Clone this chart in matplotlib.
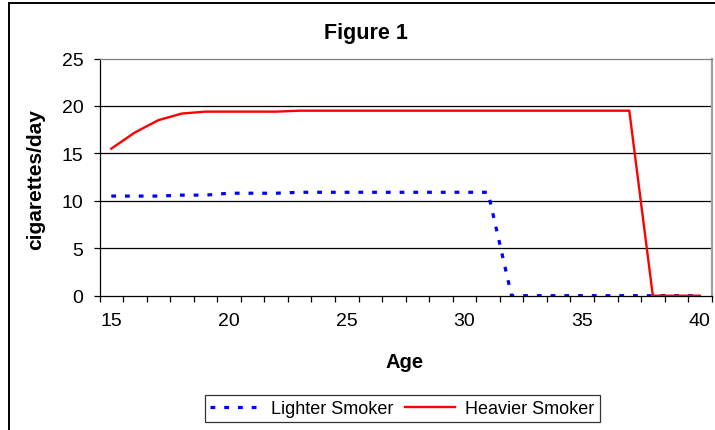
import matplotlib
matplotlib.use("Agg")
import matplotlib.pyplot as plt
from matplotlib.patches import Rectangle

ages = [15, 16, 17, 18, 19, 20, 21, 22, 23, 24, 25, 26, 27, 28, 29, 30,
        31, 32, 33, 34, 35, 36, 37, 38, 39, 40]
lighter = [10.5, 10.5, 10.5, 10.6, 10.6, 10.8, 10.8, 10.8, 10.9, 10.9, 10.9,
           10.9, 10.9, 10.9, 10.9, 10.9, 10.9, 0, 0, 0, 0, 0, 0, 0, 0, 0]
heavier = [15.5, 17.2, 18.5, 19.2, 19.4, 19.4, 19.4, 19.4, 19.5, 19.5, 19.5,
           19.5, 19.5, 19.5, 19.5, 19.5, 19.5, 19.5, 19.5, 19.5, 19.5, 19.5,
           19.5, 0, 0, 0]
y_ticks = [0, 5, 10, 15, 20, 25]
x_labels = [15, 20, 25, 30, 35, 40]

plt.rcParams['font.family'] = ['Liberation Sans', 'DejaVu Sans']

W, H = 715, 431
fig = plt.figure(figsize=(W / 100, H / 100), dpi=100)

# chart area border
fig.patches.append(Rectangle((9 / W, -0.05), 1.1, 1 - 4 / H + 0.05,
                             transform=fig.transFigure, fill=False,
                             edgecolor='black', linewidth=1.4))

left, right = 99.5 / W, 711.7 / W
bottom, top = 1 - 296.7 / H, 1 - 59.5 / H
ax = fig.add_axes([left, bottom, right - left, top - bottom])

ax.plot(ages, lighter, color='#0000FF', linewidth=2.3,
        linestyle=(0, (1.5, 2.8)), label='Lighter Smoker', zorder=3)
ax.plot(ages, heavier, color='#FF0000', linewidth=1.7,
        label='Heavier Smoker', zorder=4)

ax.set_xlim(14.5, 40.5)
ax.set_ylim(0, 25)
ax.set_yticks(y_ticks)
ax.set_xticks([a - 0.5 for a in ages] + [40.5])
ax.set_xticklabels([])
ax.set_xticks(x_labels, minor=True)
ax.set_xticklabels([str(v) for v in x_labels], minor=True)
ax.tick_params(axis='x', which='major', direction='out', length=4.5,
               width=0.9, color='black')
ax.tick_params(axis='x', which='minor', length=0, pad=12, labelsize=14)
ax.tick_params(axis='y', direction='out', length=4.5, width=0.9,
               pad=7, labelsize=14)

for y in [5, 10, 15, 20]:
    ax.axhline(y, color='black', linewidth=0.9, zorder=1)

ax.spines['left'].set_color('black')
ax.spines['left'].set_linewidth(0.9)
ax.spines['bottom'].set_color('black')
ax.spines['bottom'].set_linewidth(0.9)
ax.spines['top'].set_color('#808080')
ax.spines['top'].set_linewidth(0.9)
ax.spines['right'].set_color('#A0A0A0')
ax.spines['right'].set_linewidth(1.6)

fig.text(366 / W, 1 - 33 / H, 'Figure 1', ha='center', va='center',
         fontsize=15.5, fontweight='bold')
fig.text(36 / W, 1 - 180 / H, 'cigarettes/day', ha='center', va='center',
         rotation=90, fontsize=15, fontweight='bold')
fig.text(405 / W, 1 - 363 / H, 'Age', ha='center', va='center',
         fontsize=14.5, fontweight='bold')

leg = fig.legend(loc='center', bbox_to_anchor=(402.5 / W, 1 - 409.5 / H),
                 ncol=2, frameon=True, fancybox=False, fontsize=13,
                 handlelength=2.75, columnspacing=0.65, handletextpad=0.6,
                 borderpad=0.3, borderaxespad=0)
leg.get_frame().set_edgecolor('black')
leg.get_frame().set_linewidth(0.9)

fig.savefig('out.png', dpi=100)
